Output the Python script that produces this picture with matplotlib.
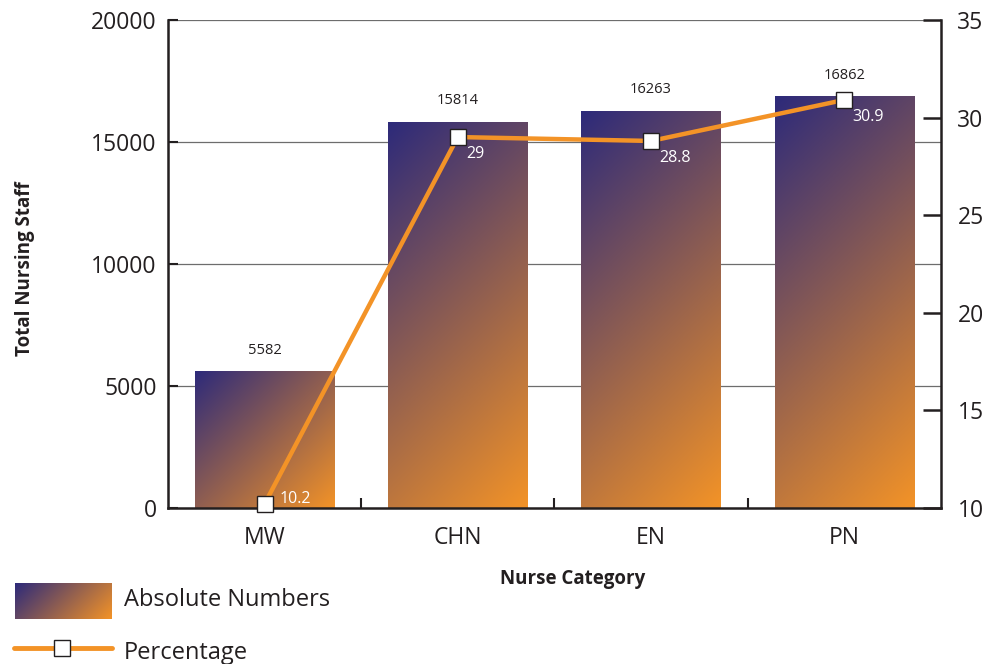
import matplotlib.pyplot as plt
import numpy as np
from matplotlib.colors import LinearSegmentedColormap
from matplotlib.lines import Line2D

categories = ["MW", "CHN", "EN", "PN"]
absolute = [5582, 15814, 16263, 16862]
percentage = [10.2, 29, 28.8, 30.9]
left_ticks = [0, 5000, 10000, 15000, 20000]
right_ticks = [10, 15, 20, 25, 30, 35]

plt.rcParams['font.family'] = ['Open Sans', 'DejaVu Sans']

navy = "#2D2A7A"
orange = "#F39327"
ink = "#231F20"
cmap = LinearSegmentedColormap.from_list("grad", [navy, orange])


def diag_grad(w_px, h_px, n=300):
    # 45 degree gradient in pixel space: dark top-left -> orange bottom-right
    xs = np.linspace(0, w_px, n)
    ys = np.linspace(0, h_px, n)
    X, Y = np.meshgrid(xs, ys)  # Y measured from bottom
    return (X + (h_px - Y)) / (w_px + h_px)


W, H = 9.82, 6.64
fig = plt.figure(figsize=(W, H), dpi=100)
ax_rect = [0.171, 0.235, 0.787, 0.735]
ax = fig.add_axes(ax_rect)

ax_wpx = ax_rect[2] * W * 100
ax_hpx = ax_rect[3] * H * 100
ymax = 20000

x = np.arange(len(categories))
bw = 0.72
for xi, val in zip(x, absolute):
    g = diag_grad(bw * ax_wpx / len(categories), val / ymax * ax_hpx)
    ax.imshow(g, cmap=cmap, extent=(xi - bw / 2, xi + bw / 2, 0, val),
              origin="lower", aspect="auto", zorder=2, interpolation="bilinear")
    ax.annotate(str(val), (xi, val), xytext=(0, 10), textcoords="offset points",
                ha="center", va="bottom", fontsize=10.5, color=ink)

ax.set_xlim(-0.5, len(categories) - 0.5)
ax.set_ylim(0, ymax)
ax.set_yticks(left_ticks)
for t in left_ticks[1:]:
    ax.axhline(t, color="#6d6d6d", lw=0.9, zorder=1)

ax.set_xticks(x)
ax.set_xticklabels(categories)
ax.set_xticks(x[:-1] + 0.5, minor=True)
ax.tick_params(axis="x", which="major", length=0, pad=13, labelsize=16.5, colors=ink)
ax.tick_params(axis="x", which="minor", direction="in", length=7, width=1.5, color=ink)
ax.tick_params(axis="y", direction="in", length=7, width=1.5, pad=8, labelsize=16.5, colors=ink)
for s in ["top", "right"]:
    ax.spines[s].set_visible(False)
for s in ["left", "bottom"]:
    ax.spines[s].set_color(ink)
    ax.spines[s].set_linewidth(1.8)

ax.set_ylabel("Total Nursing Staff", fontsize=13.5, fontweight="bold", color=ink)
ax.yaxis.set_label_coords(-0.172, 0.49)
ax.set_xlabel("Nurse Category", fontsize=13.5, fontweight="bold", color=ink)
ax.xaxis.set_label_coords(0.524, -0.125)

ax2 = ax.twinx()
ax2.set_ylim(10, 35)
ax2.set_yticks(right_ticks)
ax2.tick_params(axis="y", direction="in", length=13, width=1.8, pad=12, labelsize=16.5, colors=ink)
for s in ["top", "left", "bottom"]:
    ax2.spines[s].set_visible(False)
ax2.spines["right"].set_color(ink)
ax2.spines["right"].set_linewidth(1.8)

ax2.plot(x, percentage, color=orange, lw=3.2, zorder=4, clip_on=False,
         marker="s", markersize=11, markerfacecolor="white",
         markeredgecolor=ink, markeredgewidth=1)
for i, (xi, p) in enumerate(zip(x, percentage)):
    off = (11, 4) if i == 0 else (6, -12)
    ax2.annotate(f"{p:g}", (xi, p), xytext=off, textcoords="offset points",
                 ha="left", va="center", fontsize=11.5, color="white", zorder=5)

# legend drawn by hand in pixel space
lax = fig.add_axes([0, 0, 1, 1])
lax.axis("off")
lax.imshow(diag_grad(97, 36), cmap=cmap, extent=(15, 112, 619, 583),
           origin="lower", aspect="auto")
lax.add_line(Line2D([14, 112], [648, 648], color=orange, lw=3.5, solid_capstyle="round"))
lax.plot([62], [648], marker="s", markersize=11, markerfacecolor="white",
         markeredgecolor=ink, markeredgewidth=1)
lax.text(124, 600, "Absolute Numbers", fontsize=17, va="center", ha="left", color=ink)
lax.text(124, 653, "Percentage", fontsize=17, va="center", ha="left", color=ink)
lax.set_xlim(0, 982)
lax.set_ylim(664, 0)

fig.savefig("out.png", dpi=100)
